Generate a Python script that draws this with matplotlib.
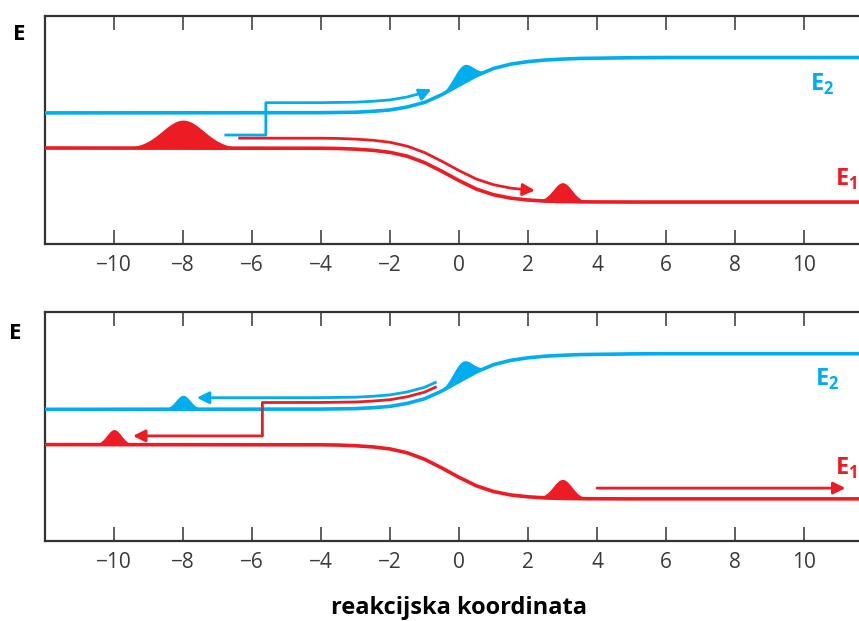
import numpy as np
import matplotlib
matplotlib.use("Agg")
import matplotlib.pyplot as plt

plt.rcParams['font.family'] = ['Open Sans', 'DejaVu Sans']
plt.rcParams['mathtext.fontset'] = 'custom'
plt.rcParams['mathtext.rm'] = 'Open Sans'
plt.rcParams['mathtext.bf'] = 'Open Sans:bold'

BLUE = '#00aeef'
RED = '#ed1c24'

# potencijalne krivulje (očitane sa slike)
x_grid = [-12, -4, -3.5, -3, -2.5, -2, -1.5, -1, -0.5, 0, 0.5, 1, 1.5, 2, 2.5, 3, 3.5, 4, 5, 6, 12]
E2_vals = [5.75, 5.76, 5.77, 5.78, 5.82, 5.88, 6.01, 6.21, 6.55, 6.97, 7.38, 7.70, 7.89, 8.00,
           8.07, 8.11, 8.14, 8.15, 8.17, 8.18, 8.18]
E1_vals = [4.21, 4.20, 4.19, 4.16, 4.11, 4.02, 3.85, 3.57, 3.19, 2.78, 2.41, 2.16, 2.01, 1.93,
           1.88, 1.86, 1.85, 1.845, 1.84, 1.84, 1.84]

# valni paketi: (panel, stanje, centar, visina, sirina)
packets = [
    (0, 'E1', -8.0, 1.23, 0.60),
    (0, 'E1', 3.0, 0.83, 0.27),
    (0, 'E2', 0.12, 0.78, 0.27),
    (1, 'E2', -8.0, 0.61, 0.21),
    (1, 'E1', -10.0, 0.66, 0.21),
    (1, 'E2', 0.1, 0.79, 0.27),
    (1, 'E1', 3.0, 0.83, 0.27),
]

xticks = [-10, -8, -6, -4, -2, 0, 2, 4, 6, 8, 10]

x_grid = np.array(x_grid)
curves = {'E1': np.array(E1_vals), 'E2': np.array(E2_vals)}


def along(name, x0, x1, off):
    # tocke koje prate krivulju s pomakom
    lo, hi = min(x0, x1), max(x0, x1)
    inner = x_grid[(x_grid > lo) & (x_grid < hi)]
    xs = np.concatenate([[lo], inner, [hi]])
    ys = np.interp(xs, x_grid, curves[name]) + off
    if x0 > x1:
        xs, ys = xs[::-1], ys[::-1]
    return list(xs), list(ys)


def arrow_path(ax, xs, ys, color, lw=2.0):
    ax.plot(xs[:-1], ys[:-1], color=color, lw=lw, solid_capstyle='butt', zorder=4)
    ax.annotate('', xy=(xs[-1], ys[-1]), xytext=(xs[-2], ys[-2]),
                arrowprops=dict(arrowstyle='-|>', color=color, lw=lw,
                                mutation_scale=18, shrinkA=0, shrinkB=0), zorder=4)


fig = plt.figure(figsize=(8.59, 6.21), dpi=100)
ax1 = fig.add_axes([0.0524, 0.6071, 0.964, 0.3671])
ax2 = fig.add_axes([0.0524, 0.1288, 0.964, 0.3688])
axes = [ax1, ax2]

for i, ax in enumerate(axes):
    ax.plot(x_grid, curves['E2'], color=BLUE, lw=2.6, zorder=3)
    ax.plot(x_grid, curves['E1'], color=RED, lw=2.6, zorder=3)
    for p, name, c, h, s in packets:
        if p != i:
            continue
        xs = np.linspace(c - 4 * s, c + 4 * s, 120)
        base = np.interp(xs, x_grid, curves[name])
        col = BLUE if name == 'E2' else RED
        ax.fill_between(xs, base, base + h * np.exp(-0.5 * ((xs - c) / s) ** 2),
                        color=col, lw=0, zorder=3)
    ax.set_xlim(-12, 12)
    ax.set_ylim(0, 10)
    ax.set_xticks(xticks)
    ax.set_xticklabels([('\u2212' + str(-t)) if t < 0 else str(t) for t in xticks])
    ax.set_yticks([])
    ax.tick_params(axis='x', direction='in', length=10, width=1.2, color='#444444',
                   top=True, labelsize=15, labelcolor='#3a3a3a', pad=8)
    for sp in ax.spines.values():
        sp.set_linewidth(1.6)
        sp.set_color('#333333')

# gornji panel - strelice
bx, by = along('E2', -5.6, -0.8, 0.44)
arrow_path(ax1, [-6.8, -5.6] + bx, [4.78, 4.78] + by, BLUE)
rx, ry = along('E1', -6.4, 2.2, 0.44)
arrow_path(ax1, rx, ry, RED)

# donji panel - strelice
bx, by = along('E2', -0.65, -7.6, 0.50)
arrow_path(ax2, bx, by, BLUE)
rx, ry = along('E2', -0.65, -5.7, 0.29)
arrow_path(ax2, rx + [-5.7, -9.45], ry + [4.59, 4.59], RED)
arrow_path(ax2, [4.0, 11.2], [2.31, 2.31], RED)

# oznake stanja
lab = dict(fontsize=17, ha='left', va='center', zorder=5)
ax1.text(10.17, 7.0, r'$\mathbf{E}_\mathbf{2}$', color=BLUE, **lab)
ax1.text(10.9, 2.84, r'$\mathbf{E}_\mathbf{1}$', color=RED, **lab)
ax2.text(10.32, 7.06, r'$\mathbf{E}_\mathbf{2}$', color=BLUE, **lab)
ax2.text(10.9, 3.18, r'$\mathbf{E}_\mathbf{1}$', color=RED, **lab)

fig.text(0.015, 1 - 35 / 621, 'E', fontsize=16, fontweight='bold', va='center', ha='left')
fig.text(0.011, 1 - 333 / 621, 'E', fontsize=16, fontweight='bold', va='center', ha='left')
fig.text(459 / 859, 1 - 608 / 621, 'reakcijska koordinata', fontsize=17, fontweight='bold',
         ha='center', va='center')

fig.savefig('out.png', dpi=100)
